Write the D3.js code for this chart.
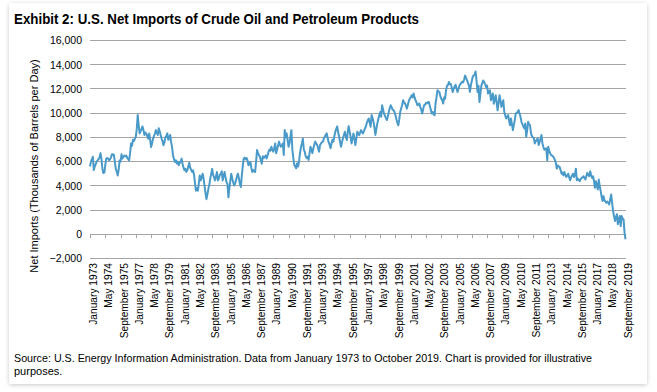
<!DOCTYPE html>
<html><head><meta charset="utf-8">
<script src="https://cdn.jsdelivr.net/npm/d3@7"></script>
<style>
html,body{margin:0;padding:0;background:#ffffff;}
svg{display:block;}
</style></head>
<body>
<svg id="chart" width="657" height="392"></svg>
<script>
// ---- data ----
const startYear = 1973;
const yTicks = [-2000, 0, 2000, 4000, 6000, 8000, 10000, 12000, 14000, 16000];
const tickLabels = ["January 1973","May 1974","September 1975","January 1977","May 1978","September 1979",
"January 1981","May 1982","September 1983","January 1985","May 1986","September 1987",
"January 1989","May 1990","September 1991","January 1993","May 1994","September 1995",
"January 1997","May 1998","September 1999","January 2001","May 2002","September 2003",
"January 2005","May 2006","September 2007","January 2009","May 2010","September 2011",
"January 2013","May 2014","September 2015","January 2017","May 2018","September 2019"];
const netImports = [
// 1973
5600,6000,6200,6400,5300,5600,5800,6000,6100,6200,6350,6700,
// 1974
6200,5400,5050,5100,5700,6250,6300,6250,6100,6200,6350,6600,
// 1975
6600,6550,6000,5400,5200,4850,5300,6100,6000,6600,6250,6400,
// 1976
6500,6450,6500,6300,6200,6100,6700,7500,7300,7800,7700,7900,
// 1977
8050,8700,9850,9000,8330,8500,8700,8900,8600,8200,8400,8300,
// 1978
8100,7900,8330,7800,7200,7500,7900,8100,8300,8600,8400,8200,
// 1979
8750,8500,8200,7900,7700,7350,7600,8000,8100,8330,7800,8000,
// 1980
8200,7600,7200,6500,6200,5970,6100,5850,6000,5700,5900,6000,
// 1981
6250,5800,5500,5280,5400,5150,5300,5600,5900,5500,5300,5150,
// 1982
5280,4900,4200,3600,3800,3600,4200,4860,4450,4700,5000,4600,
// 1983
4000,3400,2900,3300,3750,4100,4600,5000,5400,4900,4700,4450,
// 1984
4800,5140,4450,4600,4900,5000,5200,4450,4800,5140,4700,4300,
// 1985
4170,3050,3800,4400,5000,4600,4300,4030,4200,4450,4800,5000,
// 1986
4600,4200,3900,4800,5600,6250,6330,6200,6300,6100,5700,5800,
// 1987
5970,5500,5150,5300,5200,5150,6000,6950,6700,6530,6400,6100,
// 1988
5830,6450,6300,6400,6500,6260,6500,6800,7000,6900,7230,7000,
// 1989
6820,7100,7500,6700,7000,7300,7650,7400,7230,7300,7500,6550,
// 1990
8600,8000,8330,7800,7230,7500,8100,8600,6980,6300,5730,5600,
// 1991
5450,5860,5590,6000,6700,7200,7500,7900,7000,6800,6440,6300,
// 1992
6400,6140,6700,7230,7000,6700,7100,7400,7650,7500,7370,7100,
// 1993
6820,7370,7500,7600,7650,7900,8050,8200,8330,7920,7600,7400,
// 1994
7100,7500,7800,7650,8100,8470,8700,8900,8400,8050,7600,7230,
// 1995
7600,7920,8200,8470,8100,7780,8400,8930,8500,8050,7500,7900,
// 1996
8330,7900,7370,7900,8470,8300,8190,8400,8600,8450,8330,8500,
// 1997
8740,8900,9200,9400,9560,9200,8880,9840,9600,9290,8800,8200,
// 1998
8700,9150,9500,9800,10100,9700,10650,10300,9970,9800,9600,9430,
// 1999
9700,10100,10400,10650,10500,10300,10250,10100,9840,9500,9200,9000,
// 2000
9500,10100,10400,10650,11070,10900,10800,10600,10380,10700,11000,11200,
// 2001
11300,11480,11300,11620,11300,11070,10900,10650,10700,10800,10520,10300,
// 2002
9970,10300,10650,10700,10850,10800,10900,10920,10600,10300,9970,10100,
// 2003
9900,9840,10800,11300,11890,11800,11750,11400,11200,11070,10800,11300,
// 2004
11200,11890,12270,12300,12570,12400,12400,12100,11750,12000,12200,12350,
// 2005
12050,11750,12000,12270,12400,12500,12600,12550,12800,13100,12900,12700,
// 2006
12500,12270,11750,12300,12650,13030,13100,13200,13440,12600,11750,12270,
// 2007
10920,11600,12270,12500,12700,12550,12400,12150,12270,11620,11750,11890,
// 2008
11070,11300,11620,10780,11100,11480,10900,10240,10800,11480,11070,10520,
// 2009
10800,11070,10110,9800,9560,9700,9840,9400,9000,9560,9100,8600,
// 2010
9000,9430,9970,10000,10110,10250,9970,9700,9290,9100,8900,8740,
// 2011
9150,8050,8600,9290,9100,9000,8330,8100,8000,7920,7500,7700,
// 2012
7800,7920,7370,7600,7900,8190,7500,7200,6980,7050,7100,6110,
// 2013
7230,6900,6700,6550,6500,6440,6300,6140,5900,5420,5690,5600,
// 2014
5560,5300,5000,5100,4860,5140,4900,4730,4850,5000,4700,4460,
// 2015
4700,4850,5000,4730,4900,5420,4460,4600,4500,4380,4550,4650,
// 2016
4700,4790,4650,4520,4800,5070,4900,4790,5200,4900,4650,4790,
// 2017
4400,3840,4380,4000,3700,4520,4000,3560,3100,2740,3150,2800,
// 2018
2700,2600,2700,2600,2470,2900,3290,2600,1920,1500,1100,1400,
// 2019 (Jan-Oct)
1650,820,1200,1510,680,1510,1300,1230,140,-410
];
const monthNames = ["January","February","March","April","May","June","July","August","September","October","November","December"];
const categories = netImports.map((v,i)=> monthNames[i%12] + " " + (startYear + Math.floor(i/12)));

// ---- drawing ----
const svg = d3.select("#chart");
const defs = svg.append("defs");
const f = defs.append("filter").attr("id","sh").attr("x","-5%").attr("y","-5%").attr("width","110%").attr("height","115%");
f.append("feDropShadow").attr("dx",0).attr("dy",1).attr("stdDeviation",2).attr("flood-color","#000").attr("flood-opacity",0.22);

svg.append("rect").attr("x",9).attr("y",3).attr("width",638).attr("height",381).attr("rx",3)
  .attr("fill","#fff").attr("filter","url(#sh)");

const narrow = "'Liberation Sans Narrow','Arial Narrow','Liberation Sans',Arial,sans-serif";
const regular = "'Liberation Sans',Arial,sans-serif";

svg.append("text").attr("x",14).attr("y",24).attr("font-family",narrow).attr("font-weight","bold")
  .attr("font-size",15.5).attr("fill","#000")
  .attr("textLength",405).attr("lengthAdjust","spacingAndGlyphs")
  .text("Exhibit 2: U.S. Net Imports of Crude Oil and Petroleum Products");

const x = d3.scalePoint().domain(categories).range([90, 625.5]);
const y = d3.scaleLinear().domain([-2000,16000]).range([258.5, 40.5]);

// gridlines
svg.append("g").selectAll("line").data(yTicks.filter(d=>d!==0)).join("line")
  .attr("x1",90).attr("x2",626).attr("y1",d=>y(d)).attr("y2",d=>y(d))
  .attr("stroke","#a5a5a5").attr("stroke-width",1).attr("shape-rendering","crispEdges");

// y axis labels
const yAxis = d3.axisLeft(y).tickValues(yTicks).tickSize(0).tickPadding(0).tickFormat(d3.format(","));
const yg = svg.append("g").attr("transform","translate(82,0)").call(yAxis);
yg.select(".domain").remove();
yg.selectAll("text").attr("font-family",regular).attr("font-size",10.5).attr("fill","#000");

// category axis at zero
const xAxis = d3.axisBottom(x).tickValues(tickLabels).tickSize(4).tickFormat("");
const xg = svg.append("g").attr("transform",`translate(0,${y(0)})`).call(xAxis);
xg.select(".domain").attr("stroke","#a5a5a5").attr("d","M90,0.5H626");
xg.selectAll(".tick line").attr("stroke","#a5a5a5");
xg.attr("shape-rendering","crispEdges");

// tick labels below plot
svg.append("g").selectAll("text").data(tickLabels).join("text")
  .attr("transform",d=>`translate(${x(d)+3.5},263) rotate(-90)`)
  .attr("text-anchor","end").attr("dy","0.35em")
  .attr("font-family",narrow).attr("font-size",10.2).attr("fill","#000")
  .text(d=>d);

// y axis title
svg.append("text").attr("transform","translate(38,166) rotate(-90)").attr("text-anchor","middle")
  .attr("font-family",narrow).attr("font-size",11).attr("fill","#000")
  .text("Net Imports (Thousands of Barrels per Day)");

// line
const line = d3.line().x((d,i)=>x(categories[i])).y(d=>y(d));
svg.append("path").datum(netImports).attr("d",line).attr("fill","none")
  .attr("stroke","#4a9ac9").attr("stroke-width",2).attr("stroke-linejoin","round");

// source
svg.append("text").attr("x",14).attr("y",362).attr("font-family",narrow).attr("font-size",11).attr("fill","#000")
  .attr("textLength",578).attr("lengthAdjust","spacingAndGlyphs")
  .text("Source: U.S. Energy Information Administration. Data from January 1973 to October 2019. Chart is provided for illustrative");
svg.append("text").attr("x",14).attr("y",375).attr("font-family",narrow).attr("font-size",11).attr("fill","#000")
  .text("purposes.");
</script>
</body></html>
